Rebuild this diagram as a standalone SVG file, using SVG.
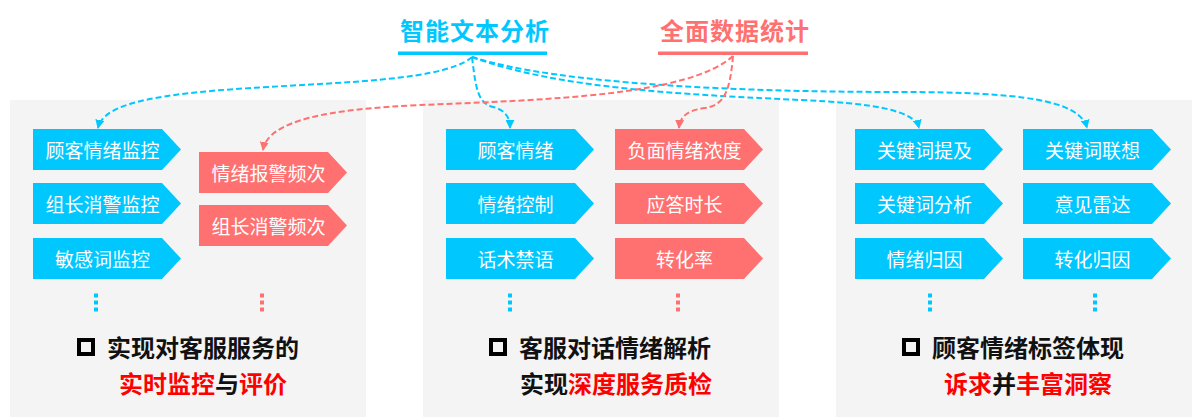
<svg xmlns="http://www.w3.org/2000/svg" width="1200" height="419" viewBox="0 0 1200 419">
<style>
.panel{fill:#F4F4F4}
.b{fill:#00C8FF}
.r{fill:#FF7171}
.lbl{font-family:"Noto Sans CJK SC","Noto Sans",sans-serif;font-size:19px;fill:#FFFFFF;text-anchor:middle}
.title{font-family:"Noto Sans CJK SC","Noto Sans",sans-serif;font-size:24px;font-weight:bold;letter-spacing:1px}
.sum{font-family:"Noto Sans CJK SC","Noto Sans",sans-serif;font-size:24px;font-weight:bold;fill:#111111}
.em{fill:#FF0000}
.box{fill:none;stroke:#000000;stroke-width:4}
.cb{fill:none;stroke:#00C8FF;stroke-width:2;stroke-dasharray:6 3}
.cr{fill:none;stroke:#FF7171;stroke-width:2;stroke-dasharray:6 3}
.db{stroke:#00C8FF;stroke-width:4;stroke-dasharray:4 3}
.dr{stroke:#FF7171;stroke-width:4;stroke-dasharray:4 3}
</style>
<defs>
<marker id="ab" viewBox="0 0 10 10" refX="9" refY="5" markerWidth="9" markerHeight="9" markerUnits="userSpaceOnUse" orient="auto"><path d="M0,0 L10,5 L0,10 z" fill="#00C8FF"/></marker>
<marker id="ar" viewBox="0 0 10 10" refX="9" refY="5" markerWidth="9" markerHeight="9" markerUnits="userSpaceOnUse" orient="auto"><path d="M0,0 L10,5 L0,10 z" fill="#FF7171"/></marker>
<path id="chev" d="M0,0 H129 L148,20.5 L129,41 H0 Z"/>
</defs>

<g id="panels">
<rect class="panel" x="10" y="100" width="356" height="317"/>
<rect class="panel" x="423" y="100" width="356" height="317"/>
<rect class="panel" x="836" y="100" width="356" height="317"/>
</g>

<g id="title-text-analysis">
<text class="title" x="400" y="40" fill="#00C8FF">智能文本分析</text>
<rect x="398" y="51.5" width="149" height="3.5" fill="#00C8FF"/>
</g>
<g id="title-data-stats">
<text class="title" x="660" y="40" fill="#FF7171">全面数据统计</text>
<rect x="658" y="51.5" width="150" height="3.5" fill="#FF7171"/>
</g>

<g id="connectors">
<path class="cb" d="M472,57 C440,85 300,82 200,92 C130,99 102,110 98,128" marker-end="url(#ab)"/>
<path class="cb" d="M472,57 C476,90 478,103 493,107 C505,110 510,117 510,128" marker-end="url(#ab)"/>
<path class="cb" d="M472,57 C560,90 700,95 800,100 C870,103 915,110 919,128" marker-end="url(#ab)"/>
<path class="cb" d="M472,57 C560,85 750,92 900,92 C1020,92 1080,100 1087,128" marker-end="url(#ab)"/>
<path class="cr" d="M733,56 C690,95 550,100 420,105 C330,109 268,120 263,150" marker-end="url(#ar)"/>
<path class="cr" d="M733,56 C730,90 725,105 705,108 C690,110 680,115 679,128" marker-end="url(#ar)"/>
</g>

<g id="p1-customer-emotion-monitor"><use href="#chev" class="b" x="33" y="129"/><text class="lbl" x="102.5" y="157.5">顾客情绪监控</text></g>
<g id="p1-leader-monitor"><use href="#chev" class="b" x="33" y="183"/><text class="lbl" x="102.5" y="211.5">组长消警监控</text></g>
<g id="p1-sensitive-monitor"><use href="#chev" class="b" x="33" y="238"/><text class="lbl" x="102.5" y="266.5">敏感词监控</text></g>
<g id="p1-alert-freq"><use href="#chev" class="r" x="199" y="152"/><text class="lbl" x="268.5" y="180.5">情绪报警频次</text></g>
<g id="p1-leader-freq"><use href="#chev" class="r" x="199" y="205"/><text class="lbl" x="268.5" y="233.5">组长消警频次</text></g>
<g id="p1-dots"><line class="db" x1="96" y1="293.5" x2="96" y2="312"/><line class="dr" x1="262" y1="293.5" x2="262" y2="312"/></g>
<g id="p1-summary">
<rect class="box" x="79" y="340" width="14" height="14"/>
<text class="sum" x="107" y="357">实现对客服服务的</text>
<text class="sum" x="119" y="393"><tspan class="em">实时监控</tspan>与<tspan class="em">评价</tspan></text>
</g>

<g id="p2-customer-emotion"><use href="#chev" class="b" x="446" y="129"/><text class="lbl" x="515.5" y="157.5">顾客情绪</text></g>
<g id="p2-emotion-control"><use href="#chev" class="b" x="446" y="183"/><text class="lbl" x="515.5" y="211.5">情绪控制</text></g>
<g id="p2-forbidden"><use href="#chev" class="b" x="446" y="238"/><text class="lbl" x="515.5" y="266.5">话术禁语</text></g>
<g id="p2-negative"><use href="#chev" class="r" x="615" y="129"/><text class="lbl" x="684.5" y="157.5">负面情绪浓度</text></g>
<g id="p2-response-time"><use href="#chev" class="r" x="615" y="183"/><text class="lbl" x="684.5" y="211.5">应答时长</text></g>
<g id="p2-conversion"><use href="#chev" class="r" x="615" y="238"/><text class="lbl" x="684.5" y="266.5">转化率</text></g>
<g id="p2-dots"><line class="db" x1="510" y1="293.5" x2="510" y2="312"/><line class="dr" x1="678" y1="293.5" x2="678" y2="312"/></g>
<g id="p2-summary">
<rect class="box" x="491" y="340" width="14" height="14"/>
<text class="sum" x="519" y="357">客服对话情绪解析</text>
<text class="sum" x="520" y="393">实现<tspan class="em">深度服务质检</tspan></text>
</g>

<g id="p3-keyword-mention"><use href="#chev" class="b" x="855" y="129"/><text class="lbl" x="924.5" y="157.5">关键词提及</text></g>
<g id="p3-keyword-analysis"><use href="#chev" class="b" x="855" y="183"/><text class="lbl" x="924.5" y="211.5">关键词分析</text></g>
<g id="p3-emotion-cause"><use href="#chev" class="b" x="855" y="238"/><text class="lbl" x="924.5" y="266.5">情绪归因</text></g>
<g id="p3-keyword-assoc"><use href="#chev" class="b" x="1023" y="129"/><text class="lbl" x="1092.5" y="157.5">关键词联想</text></g>
<g id="p3-opinion-radar"><use href="#chev" class="b" x="1023" y="183"/><text class="lbl" x="1092.5" y="211.5">意见雷达</text></g>
<g id="p3-conversion-cause"><use href="#chev" class="b" x="1023" y="238"/><text class="lbl" x="1092.5" y="266.5">转化归因</text></g>
<g id="p3-dots"><line class="db" x1="930" y1="293.5" x2="930" y2="312"/><line class="db" x1="1095" y1="293.5" x2="1095" y2="312"/></g>
<g id="p3-summary">
<rect class="box" x="904" y="340" width="14" height="14"/>
<text class="sum" x="932" y="357">顾客情绪标签体现</text>
<text class="sum" x="944" y="393"><tspan class="em">诉求</tspan>并<tspan class="em">丰富洞察</tspan></text>
</g>
</svg>
